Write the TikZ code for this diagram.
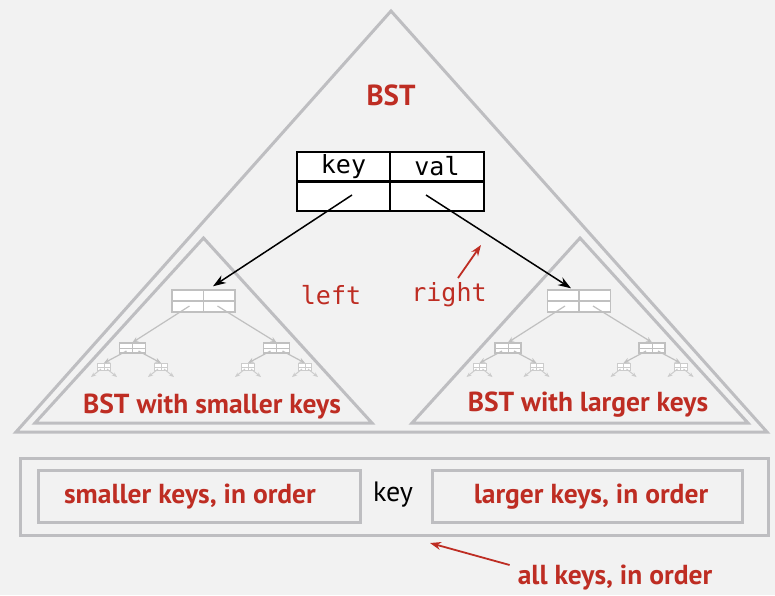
\documentclass[tikz,border=0pt]{standalone}
\usepackage{fontspec}
\setmainfont{PT Sans}
\newfontfamily\codefont{DejaVu Sans Mono}
\usetikzlibrary{arrows.meta,calc}

\definecolor{bstred}{RGB}{190,45,35}
\definecolor{bggray}{RGB}{242,242,242}
\definecolor{framegray}{RGB}{190,190,193}
\definecolor{treegray}{RGB}{192,192,192}
\definecolor{leafgray}{RGB}{204,204,204}

\tikzset{
  frame/.style={draw=framegray, line width=3pt},
  redlabel/.style={text=bstred, inner sep=0pt, font=\fontsize{27.5}{30}\selectfont\bfseries},
  codelabel/.style={font=\codefont\fontsize{25}{27}\selectfont},
  cell/.style={draw, line width=1.8pt, fill=white, minimum width=93.5pt, minimum height=29.5pt, inner sep=0pt, codelabel},
  link/.style={line width=1.5pt, -{Stealth[length=13pt,width=9pt]}},
  redarrow/.style={bstred, line width=1.8pt, -{Stealth[length=11pt,width=8pt]}},
  treebox/.style={draw=treegray, line width=1.4pt, fill=white, inner sep=0pt},
  treelink/.style={treegray, line width=1.2pt, -{Stealth[length=6pt,width=5pt]}},
  leafbox/.style={draw=leafgray, line width=1pt, fill=white, inner sep=0pt, minimum width=13pt, minimum height=7pt},
  leaflink/.style={leafgray, line width=1pt, -{Stealth[length=5pt,width=4pt]}}
}

\begin{document}
\begin{tikzpicture}[x=1pt, y=-1pt]
  % background
  \fill[bggray] (0,0) rectangle (775,595);
  \useasboundingbox (0,0) rectangle (775,595);

  % Triangles
  \draw[frame] (391,11) -- (767,432) -- (16,432) -- cycle;
  \draw[frame] (203.5,238) -- (372,423) -- (35,423) -- cycle;
  \draw[frame] (580,238) -- (748,423) -- (412,423) -- cycle;

  % Titles
  \node[redlabel, font=\fontsize{29}{31}\selectfont\bfseries] (bst) at (391,95) {BST};
  \node[redlabel] (smallbst) at (212,406) {BST with smaller keys};
  \node[redlabel] (largebst) at (588,405) {BST with larger keys};

  % Little trees inside the subtrees
  \foreach \s/\cx in {l/203.5, r/579}{
    \node[treebox, minimum width=63pt, minimum height=22pt] (\s-root) at (\cx,301) {};
    \draw[treegray, line width=1.4pt] (\s-root.north) -- (\s-root.south) (\s-root.west) -- (\s-root.east);
    \foreach \c/\dx in {a/-71, b/73}{
      \node[treebox, line width=1.2pt, minimum width=26pt, minimum height=10pt] (\s-\c) at ({\cx+(\dx)},348) {};
      \draw[treegray, line width=1pt] (\s-\c.north) -- (\s-\c.south) (\s-\c.west) -- (\s-\c.east);
      \foreach \g/\gx in {1/-28.5, 2/28.5}{
        \node[leafbox] (\s-\c\g) at ({\cx+(\dx)+(\gx)},367) {};
        \draw[leafgray, line width=0.8pt] (\s-\c\g.north) -- (\s-\c\g.south) (\s-\c\g.west) -- (\s-\c\g.east);
        \coordinate (\s-\c\g-l) at ({\cx+(\dx)+(\gx)-13},377);
        \coordinate (\s-\c\g-r) at ({\cx+(\dx)+(\gx)+13},377);
        \draw[leaflink] ($(\s-\c\g.center)+(-3,2)$) -- (\s-\c\g-l);
        \draw[leaflink] ($(\s-\c\g.center)+(3,2)$) -- (\s-\c\g-r);
      }
      \draw[treelink] ($(\s-\c.center)+(-6,3)$) -- (\s-\c1.north);
      \draw[treelink] ($(\s-\c.center)+(6,3)$) -- (\s-\c2.north);
    }
    \draw[treelink] ($(\s-root.center)+(-14,5)$) -- (\s-a.north);
    \draw[treelink] ($(\s-root.center)+(14,5)$) -- (\s-b.north);
  }

  % The node itself
  \node[cell] (key) at (343.5,166.5) {key};
  \node[cell, minimum width=94.5pt] (val) at (437,166.5) {val};
  \node[cell] (keyl) at (343.5,196.5) {};
  \node[cell, minimum width=94.5pt] (valr) at (437,196.5) {};

  % Links
  \draw[link] ($(keyl.center)+(8.5,-1.5)$) -- ($(l-root.north)+(9.5,-3)$);
  \draw[link] ($(valr.center)+(-11,-1.5)$) -- ($(r-root.north)+(-8,-1)$);
  \node[codelabel, text=bstred] (left) at (331,295) {left};
  \node[codelabel, text=bstred] (right) at (449,295) {right};
  \coordinate (rightptr) at (481,245);
  \draw[redarrow] (458,278) -- (rightptr);

  % In order
  \node[frame, minimum width=748pt, minimum height=77pt] (inorder) at (394,496.5) {};
  \node[frame, minimum width=322pt, minimum height=52pt] (smallbox) at (199,496) {};
  \node[frame, minimum width=310pt, minimum height=52pt] (largebox) at (587,496) {};
  \node[redlabel] (smalltxt) at (190,497) {smaller keys, in order};
  \node[redlabel] (largetxt) at (591,497) {larger keys, in order};
  \node[font=\fontsize{28}{30}\selectfont] (midkey) at (393,495) {key};

  \node[redlabel] (allkeys) at (615,578) {all keys, in order};
  \coordinate (allptr) at (430,543);
  \draw[redarrow] ($(allkeys.west)+(-8,-13)$) -- (allptr);

\end{tikzpicture}
\end{document}
